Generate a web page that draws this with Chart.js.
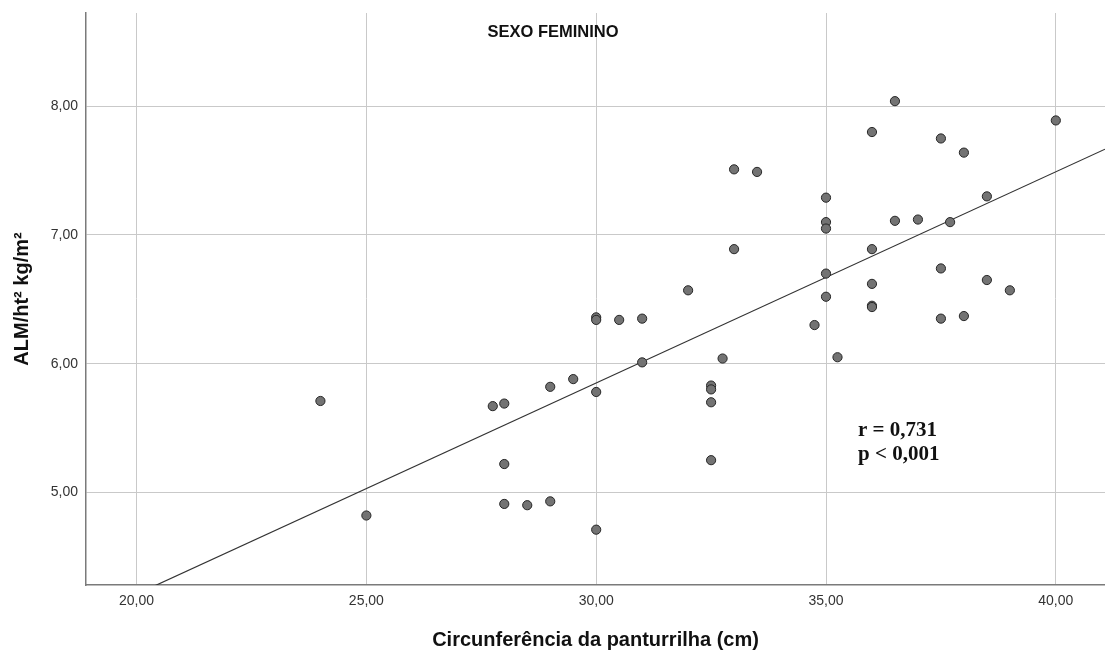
<!DOCTYPE html>
<html>
<head>
<meta charset="utf-8">
<script src="https://cdn.jsdelivr.net/npm/chart.js@4"></script>
<style>
  html, body { margin: 0; padding: 0; background: #fff; }
  #wrap { width: 1105px; height: 652px; position: relative; }
</style>
</head>
<body>
<div id="wrap"><canvas id="chart"></canvas></div>
<script>
// circunferencia da panturrilha (cm)
const calf = [
  24, 25, 27.75, 28, 28, 28, 28.5, 29, 29, 29.5,
  30, 30, 30, 30, 30.5, 31, 31, 32, 32.75, 32.5,
  32.5, 32.5, 32.5, 33, 33.5, 33, 35, 35, 35, 35,
  35, 34.75, 35.25, 36, 36, 36, 36, 36, 36.5, 36.5,
  37, 37.5, 37.5, 37.5, 37.7, 38, 38, 38.5, 38.5, 39,
  40
];
// ALM/ht2 kg/m2
const alm = [
  5.71, 4.82, 5.67, 5.69, 5.22, 4.91, 4.90, 4.93, 5.82, 5.88,
  5.78, 6.36, 6.34, 4.71, 6.34, 6.35, 6.01, 6.57, 6.04, 5.83,
  5.80, 5.70, 5.25, 7.51, 7.49, 6.89, 7.29, 7.10, 7.05, 6.70,
  6.52, 6.30, 6.05, 6.89, 6.62, 6.45, 6.44, 7.80, 8.04, 7.11,
  7.12, 7.75, 6.74, 6.35, 7.10, 7.64, 6.37, 7.30, 6.65, 6.57,
  7.89
];
const xTicks = [20, 25, 30, 35, 40];
const yTicks = [5, 6, 7, 8];
const xRange = [18.9, 41.07];
const yRange = [4.28, 8.725];
const chartTitle = "SEXO FEMININO";
const statsText = ["r = 0,731", "p < 0,001"];

// least squares fit line
function fitLine(xs, ys) {
  const n = xs.length;
  const mx = xs.reduce((a, b) => a + b, 0) / n;
  const my = ys.reduce((a, b) => a + b, 0) / n;
  let sxy = 0, sxx = 0;
  for (let i = 0; i < n; i++) {
    sxy += (xs[i] - mx) * (ys[i] - my);
    sxx += (xs[i] - mx) * (xs[i] - mx);
  }
  const slope = sxy / sxx;
  return { slope: slope, intercept: my - slope * mx };
}

const fit = fitLine(calf, alm);
const fitPoints = xRange.map(x => ({ x: x, y: fit.intercept + fit.slope * x }));
const points = calf.map((x, i) => ({ x: x, y: alm[i] }));

const fmt = v => v.toFixed(2).replace(".", ",");

const overlayText = {
  id: "overlayText",
  afterDraw(chart) {
    const ctx = chart.ctx;
    ctx.save();
    ctx.fillStyle = "#111";
    ctx.font = "bold 16.5px 'Liberation Sans', Arial, sans-serif";
    ctx.textAlign = "center";
    ctx.textBaseline = "middle";
    ctx.fillText(chartTitle, 553, 32);
    ctx.font = "bold 21px 'Liberation Serif', 'Times New Roman', serif";
    ctx.textAlign = "left";
    ctx.textBaseline = "alphabetic";
    ctx.fillText(statsText[0], 858, 436);
    ctx.fillText(statsText[1], 858, 460);
    ctx.restore();
  }
};

new Chart(document.getElementById("chart"), {
  type: "scatter",
  data: {
    datasets: [
      {
        type: "line",
        data: fitPoints,
        borderColor: "#333",
        borderWidth: 1.2,
        pointRadius: 0,
        fill: false,
        order: 2
      },
      {
        data: points,
        backgroundColor: "#737373",
        borderColor: "#262626",
        borderWidth: 1,
        pointRadius: 4.6,
        order: 1
      }
    ]
  },
  options: {
    responsive: true,
    maintainAspectRatio: false,
    animation: false,
    layout: { autoPadding: false, padding: { top: 13, left: 0, right: 0, bottom: 0 } },
    plugins: {
      legend: { display: false },
      tooltip: { enabled: false }
    },
    scales: {
      x: {
        type: "linear",
        min: xRange[0],
        max: xRange[1],
        afterFit: s => { s.height = 67; s.paddingLeft = 0; s.paddingRight = 0; },
        afterBuildTicks: s => { s.ticks = xTicks.map(v => ({ value: v })); },
        ticks: {
          padding: 8,
          color: "#333",
          font: { family: "'Liberation Sans', Arial, sans-serif", size: 14 },
          callback: v => fmt(v)
        },
        grid: { color: "#c9c9c9", lineWidth: 1, drawTicks: false },
        border: { color: "#7a7a7a", width: 1.5 },
        title: {
          display: true,
          text: "Circunferência da panturrilha (cm)",
          color: "#111",
          font: { family: "'Liberation Sans', Arial, sans-serif", size: 20, weight: "bold" },
          padding: { top: 0, bottom: 0 }
        }
      },
      y: {
        type: "linear",
        min: yRange[0],
        max: yRange[1],
        afterFit: s => { s.width = 86; s.paddingTop = 0; s.paddingBottom = 0; },
        afterBuildTicks: s => { s.ticks = yTicks.map(v => ({ value: v })); },
        ticks: {
          padding: 8,
          color: "#333",
          font: { family: "'Liberation Sans', Arial, sans-serif", size: 14 },
          callback: v => fmt(v)
        },
        grid: { color: "#c9c9c9", lineWidth: 1, drawTicks: false },
        border: { color: "#7a7a7a", width: 1.5 },
        title: {
          display: true,
          text: "ALM/ht² kg/m²",
          color: "#111",
          font: { family: "'Liberation Sans', Arial, sans-serif", size: 20, weight: "bold" },
          padding: { top: 10, bottom: 0 }
        }
      }
    }
  },
  plugins: [overlayText]
});
</script>
</body>
</html>
